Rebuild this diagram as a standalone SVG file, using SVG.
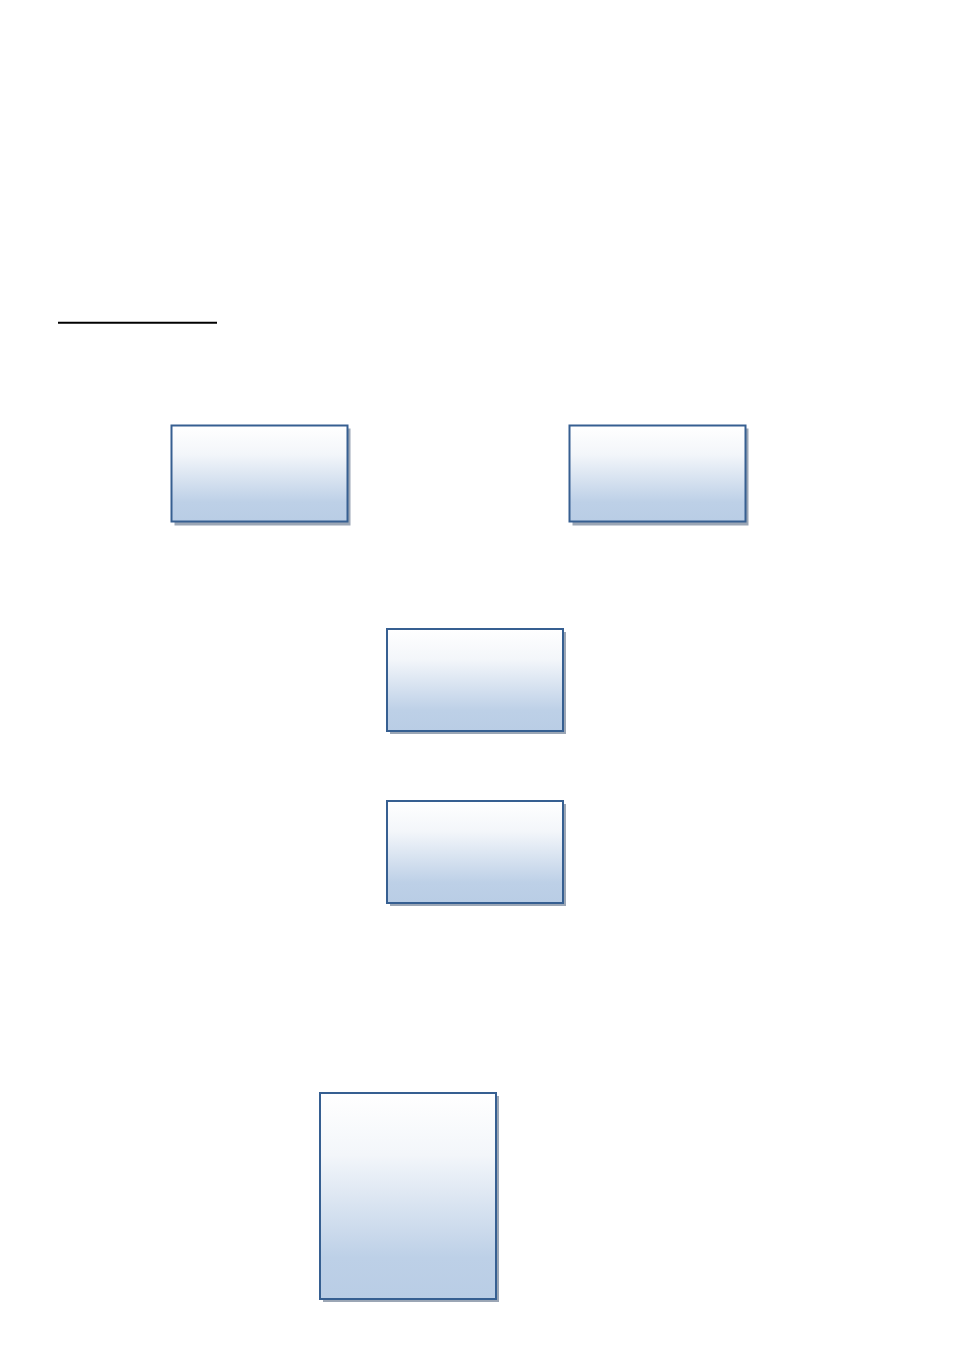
<svg xmlns="http://www.w3.org/2000/svg" width="954" height="1350" viewBox="0 0 954 1350">
<style>
.box{fill:url(#g);stroke:#365f91;stroke-width:2}
.sh{fill:#9ba6b5}
</style>
<defs>
<linearGradient id="g" x1="0" y1="0" x2="0" y2="1">
<stop offset="0" stop-color="#ffffff"/>
<stop offset="0.3" stop-color="#f3f6fa"/>
<stop offset="0.8" stop-color="#bdd0e7"/>
<stop offset="1" stop-color="#b9cde5"/>
</linearGradient>
</defs>
<rect width="954" height="1350" fill="#ffffff"/>
<line x1="58" y1="322.7" x2="217" y2="322.7" stroke="#000" stroke-width="2"/>
<g id="node1"><rect class="sh" x="174.5" y="428.5" width="176" height="97"/><rect class="box" x="171.5" y="425.5" width="176" height="96"/></g>
<g id="node2"><rect class="sh" x="572.5" y="428.5" width="176" height="97"/><rect class="box" x="569.5" y="425.5" width="176" height="96"/></g>
<g id="node3"><rect class="sh" x="390" y="632" width="176" height="102"/><rect class="box" x="387" y="629" width="176" height="102"/></g>
<g id="node4"><rect class="sh" x="390" y="804" width="176" height="102"/><rect class="box" x="387" y="801" width="176" height="102"/></g>
<g id="node5"><rect class="sh" x="323" y="1096" width="176" height="206"/><rect class="box" x="320" y="1093" width="176" height="206"/></g>
<g id="connectors"></g>
</svg>
